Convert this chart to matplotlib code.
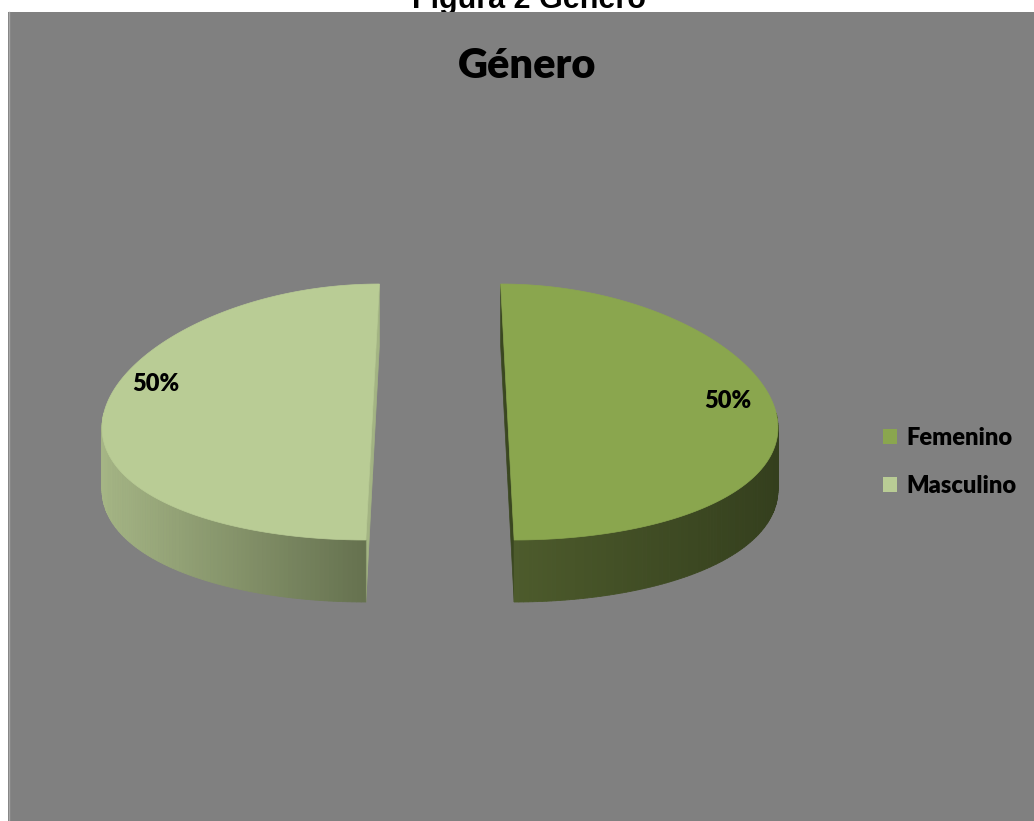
import numpy as np
import matplotlib.pyplot as plt
from matplotlib.patches import Polygon, Rectangle, Patch
from matplotlib.colors import to_rgb

# datos
categorias = ["Femenino", "Masculino"]
valores = [50, 50]
etiquetas = ["50%", "50%"]

# colores (cara superior, lateral izq -> der, corte)
col_top = ["#8AA64E", "#B9CC95"]
col_lado = [("#4D5B2C", "#343F1D"), ("#A5B585", "#65714F")]
col_corte = ["#3A4720", "#A3B483"]

# geometria del pastel 3D (pixeles)
CX, CY = 440, 412
A, B = 268.5, 128
K = 0.1          # perspectiva
PROF = 62        # grosor
EXPL = 0.251     # separacion
FUENTE = "Lato"


def proy(u, v):
    s = 1 - K * v
    return CX + A * u * s, CY - B * v


fig = plt.figure(figsize=(10.34, 8.21), dpi=100)
ax = fig.add_axes([0, 0, 1, 1])
ax.set_xlim(0, 1034)
ax.set_ylim(821, 0)
ax.axis("off")

# titulo de la figura (cortado arriba, como en el original) y fondo gris
ax.text(529, 8, "Figura 2 Género", ha="center", va="baseline",
        fontsize=22, fontweight="bold", family="Liberation Sans", zorder=0)
ax.add_patch(Rectangle((8, 12), 1026, 809, facecolor="#808080", edgecolor="none", zorder=1))
ax.plot([8.5, 8.5], [12, 821], color="#A8A8A8", lw=1, zorder=1)

ax.text(527, 78, "Género", ha="center", va="baseline", fontsize=30,
        fontweight="heavy", family=FUENTE, zorder=5)

total = sum(valores)
inicio = 90.0
caras_corte, lados, tapas, textos = [], [], [], []
for i, val in enumerate(valores):
    ang = 360.0 * val / total
    t0, t1 = inicio, inicio - ang
    inicio = t1
    medio = np.radians((t0 + t1) / 2)
    du, dv = EXPL * np.cos(medio), EXPL * np.sin(medio)

    t = np.radians(np.linspace(t0, t1, 200))
    us = du + np.cos(t)
    vs = dv + np.sin(t)
    arco = np.array([proy(u, v) for u, v in zip(us, vs)])
    centro = np.array(proy(du, dv))

    # caras del corte
    for j in [0, -1]:
        p = arco[j]
        pts = [centro, p, p + [0, PROF], centro + [0, PROF]]
        caras_corte.append(Polygon(pts, closed=True, facecolor=col_corte[i],
                                   edgecolor=col_corte[i], lw=0.5))

    # lateral frontal con degradado
    frente = np.sin(t) < 0
    idx = np.where(frente)[0]
    if len(idx) > 1:
        xs = arco[idx, 0]
        xmin, xmax = xs.min(), xs.max()
        c0, c1 = np.array(to_rgb(col_lado[i][0])), np.array(to_rgb(col_lado[i][1]))
        for a, b in zip(idx[:-1], idx[1:]):
            p0, p1 = arco[a], arco[b]
            f = ((p0[0] + p1[0]) / 2 - xmin) / (xmax - xmin)
            c = c0 + (c1 - c0) * f
            pts = [p0, p1, p1 + [0, PROF], p0 + [0, PROF]]
            lados.append(Polygon(pts, closed=True, facecolor=c, edgecolor=c, lw=0.6))

    tapas.append(Polygon(np.vstack([centro, arco]), closed=True,
                         facecolor=col_top[i], edgecolor=col_top[i], lw=0.5))

    # etiqueta de datos
    lv = 0.15 - 0.065 * np.cos(medio)
    lx, ly = proy(du + 0.83 * np.cos(medio), dv + 0.83 * np.sin(medio) + lv)
    textos.append((lx, ly, etiquetas[i]))

for p in caras_corte:
    p.set_zorder(2)
    ax.add_patch(p)
for p in lados:
    p.set_zorder(3)
    ax.add_patch(p)
for p in tapas:
    p.set_zorder(4)
    ax.add_patch(p)
for lx, ly, s in textos:
    ax.text(lx, ly, s, ha="center", va="center", fontsize=17,
            fontweight="heavy", family=FUENTE, zorder=6)

handles = [Patch(facecolor=col_top[i], edgecolor="none") for i in range(len(categorias))]
leg = fig.legend(handles, categorias, loc="center left",
                 bbox_to_anchor=(883 / 1034, 1 - 462 / 821), frameon=False,
                 prop={"family": FUENTE, "weight": "heavy", "size": 17},
                 handlelength=0.6, handleheight=0.6, handletextpad=0.4,
                 labelspacing=1.1, borderpad=0, borderaxespad=0)

fig.savefig("out.png", dpi=100)
